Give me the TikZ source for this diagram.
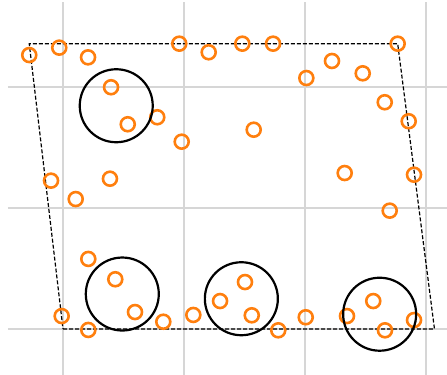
\documentclass[tikz,border=0pt]{standalone}
\usepackage{tikz}
\definecolor{PTorange}{HTML}{FF7F0E}
\definecolor{PTgrid}{HTML}{D6D6D6}
\tikzset{ptring/.style={circle,draw=PTorange,line width=2.6pt,minimum size=14pt,inner sep=0pt},
 probe/.style={circle,draw=black,line width=2.2pt,minimum size=73pt,inner sep=0pt},
 cellline/.style={draw=black,line width=1.2pt,dash pattern=on 4pt off 2pt},
 gridline/.style={draw=PTgrid,line width=1.6pt}}

\begin{document}
\begin{tikzpicture}[x=121pt,y=121pt]
\useasboundingbox (-0.5207,-0.3802) rectangle (3.1736,2.7190);
% grid
\draw[gridline] (0,-0.3802)--(0,2.705);
\draw[gridline] (1,-0.3802)--(1,2.705);
\draw[gridline] (2,-0.3802)--(2,2.705);
\draw[gridline] (3,-0.3802)--(3,2.705);
\draw[gridline] (-0.455,0)--(3.1736,0);
\draw[gridline] (-0.455,1)--(3.1736,1);
\draw[gridline] (-0.455,2)--(3.1736,2);
% cell
\coordinate (c00) at (0,0);
\coordinate (c10) at (3.07,0);
\coordinate (c11) at (2.766,2.358);
\coordinate (c01) at (-0.279,2.358);
\draw[cellline] (c00)--(c10)--(c11)--(c01)--cycle;
% sites
\node[ptring] (s1) at (-0.279,2.264) {};
\node[ptring] (s2) at (-0.031,2.325) {};
\node[ptring] (s3) at (0.207,2.245) {};
\node[ptring] (s4) at (0.397,1.998) {};
\node[ptring] (s5) at (0.535,1.692) {};
\node[ptring] (s6) at (0.779,1.750) {};
\node[ptring] (s7) at (0.981,1.548) {};
\node[ptring] (s8) at (0.961,2.358) {};
\node[ptring] (s9) at (1.204,2.287) {};
\node[ptring] (s10) at (-0.099,1.226) {};
\node[ptring] (s11) at (0.388,1.242) {};
\node[ptring] (s12) at (1.482,2.358) {};
\node[ptring] (s13) at (1.736,2.358) {};
\node[ptring] (s14) at (2.011,2.074) {};
\node[ptring] (s15) at (2.223,2.215) {};
\node[ptring] (s16) at (2.477,2.113) {};
\node[ptring] (s17) at (2.766,2.358) {};
\node[ptring] (s18) at (2.659,1.874) {};
\node[ptring] (s19) at (2.857,1.717) {};
\node[ptring] (s20) at (1.576,1.647) {};
\node[ptring] (s21) at (2.328,1.289) {};
\node[ptring] (s22) at (2.901,1.275) {};
\node[ptring] (s23) at (0.105,1.074) {};
\node[ptring] (s24) at (0.209,0.579) {};
\node[ptring] (s25) at (0.432,0.411) {};
\node[ptring] (s26) at (0.595,0.140) {};
\node[ptring] (s27) at (0.829,0.060) {};
\node[ptring] (s28) at (1.077,0.116) {};
\node[ptring] (s29) at (-0.011,0.107) {};
\node[ptring] (s30) at (0.209,-0.008) {};
\node[ptring] (s31) at (1.298,0.231) {};
\node[ptring] (s32) at (2.700,0.978) {};
\node[ptring] (s33) at (1.504,0.388) {};
\node[ptring] (s34) at (1.560,0.113) {};
\node[ptring] (s35) at (1.779,-0.011) {};
\node[ptring] (s36) at (2.006,0.097) {};
\node[ptring] (s37) at (2.347,0.107) {};
\node[ptring] (s38) at (2.564,0.231) {};
\node[ptring] (s39) at (2.661,-0.011) {};
\node[ptring] (s40) at (2.901,0.074) {};
% probes
\node[probe] (pa) at (0.440,1.845) {};
\node[probe] (pb) at (0.490,0.289) {};
\node[probe] (pc) at (1.474,0.250) {};
\node[probe] (pd) at (2.617,0.122) {};
\end{tikzpicture}
\end{document}
